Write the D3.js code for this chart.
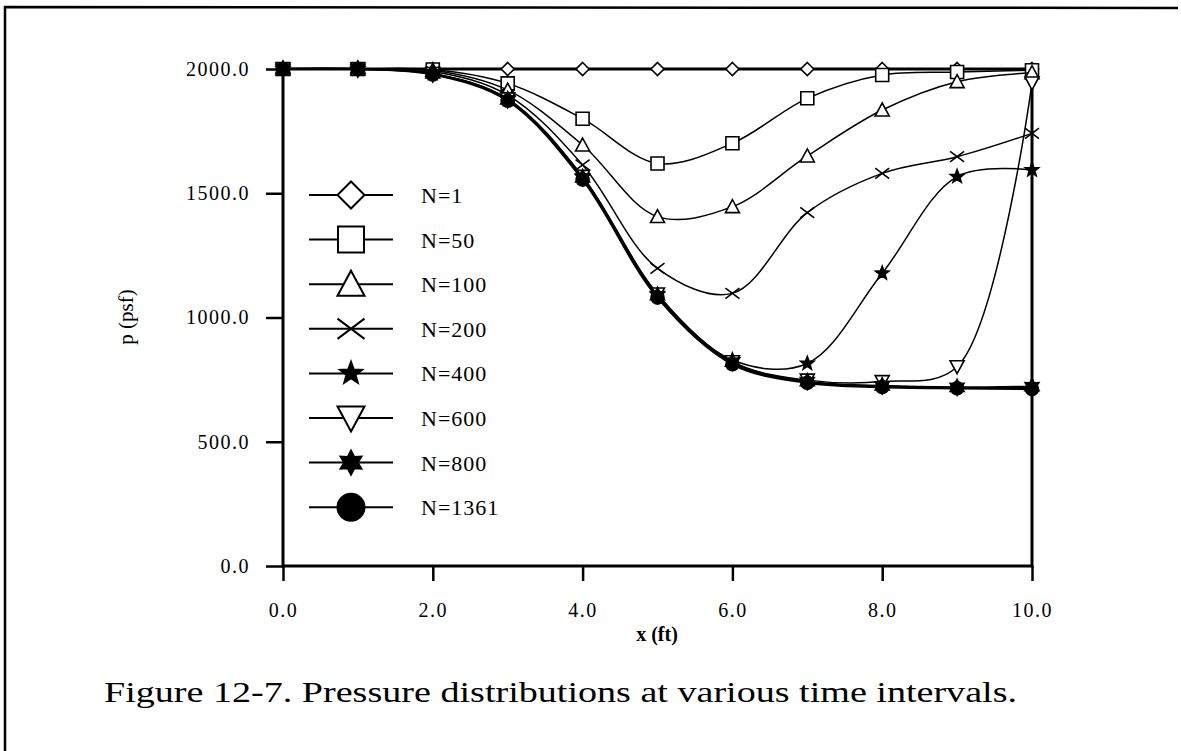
<!DOCTYPE html>
<html>
<head>
<meta charset="utf-8">
<script src="https://cdn.jsdelivr.net/npm/d3@7"></script>
<style>
  body { margin: 0; background: #fff; }
  text { font-family: "Liberation Serif", "Times New Roman", serif; fill: #000; }
</style>
</head>
<body>
<script>
// x positions (ft) and pressure (psf) per time step
const xValues = [0, 1, 2, 3, 4, 5, 6, 7, 8, 9, 10]
const seriesNames = ['N=1', 'N=50', 'N=100', 'N=200', 'N=400', 'N=600', 'N=800', 'N=1361']
const p1 = [2000, 2000, 2000, 2000, 2000, 2000, 2000, 2000, 2000, 2000, 2000]
const p50 = [2000, 2000, 1998, 1942, 1800, 1620, 1701, 1882, 1976, 1988, 1995]
const p100 = [2000, 2000, 1995, 1915, 1694, 1406, 1446, 1650, 1835, 1949, 1985]
const p200 = [2000, 2000, 1990, 1895, 1614, 1198, 1097, 1422, 1580, 1647, 1741]
const p400 = [2000, 2000, 1982, 1878, 1565, 1092, 829, 815, 1178, 1567, 1594]
const p600 = [2000, 2000, 1982, 1880, 1568, 1095, 822, 748, 742, 802, 1944]
const p800 = [2000, 2000, 1980, 1876, 1562, 1088, 820, 742, 725, 719, 722]
const p1361 = [2000, 2000, 1978, 1872, 1555, 1080, 812, 737, 720, 715, 712]
const seriesValues = [p1, p50, p100, p200, p400, p600, p800, p1361]
const xTicks = [0, 2, 4, 6, 8, 10]
const yTicks = [0, 500, 1000, 1500, 2000]

const width = 1181
const height = 751

// marker shapes, size = r*r
const diamond = { draw(c, s) { const r = Math.sqrt(s); c.moveTo(0, -r); c.lineTo(r, 0); c.lineTo(0, r); c.lineTo(-r, 0); c.closePath() } }
const square = { draw(c, s) { const r = Math.sqrt(s); c.rect(-r, -r, 2 * r, 2 * r) } }
const triUp = { draw(c, s) { const r = Math.sqrt(s); c.moveTo(0, -r); c.lineTo(r, r * 0.85); c.lineTo(-r, r * 0.85); c.closePath() } }
const triDown = { draw(c, s) { const r = Math.sqrt(s); c.moveTo(0, r); c.lineTo(r, -r * 0.85); c.lineTo(-r, -r * 0.85); c.closePath() } }
const cross = { draw(c, s) { const r = Math.sqrt(s); c.moveTo(-r, -r * 0.75); c.lineTo(r, r * 0.75); c.moveTo(r, -r * 0.75); c.lineTo(-r, r * 0.75) } }
const starN = (n) => ({
  draw(c, s) {
    const r = Math.sqrt(s), ri = n === 5 ? r * 0.42 : r * 0.55
    for (let i = 0; i < n * 2; i++) {
      const a = -Math.PI / 2 + i * Math.PI / n
      const rr = i % 2 ? ri : r
      i ? c.lineTo(rr * Math.cos(a), rr * Math.sin(a)) : c.moveTo(rr * Math.cos(a), rr * Math.sin(a))
    }
    c.closePath()
  }
})
const circle = { draw(c, s) { const r = Math.sqrt(s); c.moveTo(r, 0); c.arc(0, 0, r, 0, 2 * Math.PI) } }

const shapes = [diamond, square, triUp, cross, starN(5), triDown, starN(6), circle]
const filled = [false, false, false, false, true, false, true, true]
const markR = [6.5, 6.5, 7, 7, 7, 7, 8, 6.5]
const legR = [13.5, 13, 13.5, 13.5, 11.5, 13.5, 12, 13.5]
const lineW = [1.5, 1.5, 1.5, 1.5, 1.5, 1.5, 2.2, 2.2]

const svg = d3.select('body')
  .append('svg')
  .attr('width', width)
  .attr('height', height)

svg.append('rect').attr('width', width).attr('height', height).attr('fill', '#fff')

// outer page frame
svg.append('path')
  .attr('d', 'M5,751 L5,7 L1178,8')
  .attr('fill', 'none')
  .attr('stroke', '#000')
  .attr('stroke-width', 2.5)

const x = d3.scaleLinear().domain([0, 10]).range([283, 1032])
const y = d3.scaleLinear().domain([0, 2000]).range([566, 69])

const xAxis = svg.append('g')
  .attr('transform', 'translate(0,566)')
  .call(d3.axisBottom(x).tickValues(xTicks).tickSize(15).tickPadding(22).tickFormat(d3.format('.1f')))
const yAxis = svg.append('g')
  .attr('transform', 'translate(283,0)')
  .call(d3.axisLeft(y).tickValues(yTicks).tickSize(17).tickPadding(16).tickFormat(d3.format('.1f')))

;[xAxis, yAxis].forEach(ax => {
  ax.select('.domain').remove()
  ax.selectAll('line').attr('stroke', '#000').attr('stroke-width', 2.5)
  ax.selectAll('text')
    .attr('font-family', '"Liberation Serif", serif')
    .attr('font-size', 20)
    .attr('letter-spacing', 1.5)
    .attr('fill', '#000')
})

// plot box
svg.append('rect')
  .attr('x', x(0)).attr('y', y(2000))
  .attr('width', x(10) - x(0)).attr('height', y(0) - y(2000))
  .attr('fill', 'none')
  .attr('stroke', '#000')
  .attr('stroke-width', 3)

const line = d3.line()
  .x((d, i) => x(xValues[i]))
  .y(d => y(d))
  .curve(d3.curveCatmullRom.alpha(0.5))

seriesValues.forEach((vals, k) => {
  const g = svg.append('g')
  g.append('path')
    .attr('d', line(vals))
    .attr('fill', 'none')
    .attr('stroke', '#000')
    .attr('stroke-width', lineW[k])
  g.selectAll('path.m')
    .data(vals)
    .enter()
    .append('path')
    .attr('class', 'm')
    .attr('transform', (d, i) => `translate(${x(xValues[i])},${y(d)})`)
    .attr('d', d3.symbol().type(shapes[k]).size(markR[k] * markR[k]))
    .attr('fill', filled[k] ? '#000' : '#fff')
    .attr('stroke', '#000')
    .attr('stroke-width', 1.6)
})

// legend
const legend = svg.append('g')
seriesNames.forEach((name, k) => {
  const ly = 195 + k * 44.6
  legend.append('line')
    .attr('x1', 309).attr('x2', 393)
    .attr('y1', ly).attr('y2', ly)
    .attr('stroke', '#000').attr('stroke-width', 2)
  legend.append('path')
    .attr('transform', `translate(351,${ly})`)
    .attr('d', d3.symbol().type(shapes[k]).size(legR[k] * legR[k]))
    .attr('fill', filled[k] ? '#000' : '#fff')
    .attr('stroke', '#000')
    .attr('stroke-width', 2)
  legend.append('text')
    .attr('x', 421).attr('y', ly + 8)
    .attr('font-size', 22)
    .attr('letter-spacing', 1)
    .text(name)
})

// axis titles
svg.append('text')
  .attr('x', 657).attr('y', 641)
  .attr('text-anchor', 'middle')
  .attr('font-size', 20)
  .attr('font-weight', 'bold')
  .attr('fill', '#000')
  .text('x (ft)')

svg.append('text')
  .attr('transform', 'translate(133,317) rotate(-90)')
  .attr('text-anchor', 'middle')
  .attr('font-size', 21)
  .attr('fill', '#000')
  .text('p (psf)')

svg.append('text')
  .attr('x', 104).attr('y', 702)
  .attr('font-family', '"DejaVu Serif", serif')
  .attr('font-size', 30)
  .attr('textLength', 913)
  .attr('lengthAdjust', 'spacingAndGlyphs')
  .text('Figure 12-7. Pressure distributions at various time intervals.')
</script>
</body>
</html>
